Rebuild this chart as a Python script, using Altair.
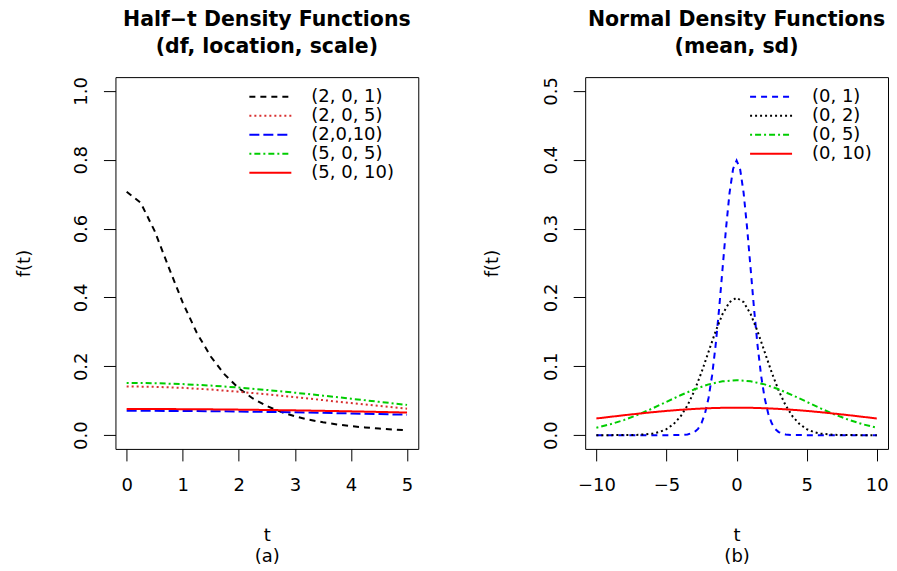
import altair as alt
import pandas as pd

FONT = "DejaVu Sans"
NB = "\u00a0"

# ---------------- Left panel: half-t densities ----------------
ht_t_fine = [0, 0.25, 0.5, 0.75, 1.0, 1.25, 1.5, 1.75, 2.0, 2.25, 2.5,
             2.75, 3.0, 3.25, 3.5, 3.75, 4.0, 4.25, 4.5, 4.75, 5.0]
ht_2_0_1 = [0.7071, 0.6752, 0.5926, 0.4876, 0.3849, 0.2974, 0.2283, 0.1756,
            0.1361, 0.1066, 0.0844, 0.0676, 0.0548, 0.0449, 0.0372, 0.0311,
            0.0262, 0.0223, 0.0191, 0.0164, 0.0143]
ht_t = [0, 0.5, 1.0, 1.5, 2.0, 2.5, 3.0, 3.5, 4.0, 4.5, 5.0]
ht_2_0_5 = [0.1414, 0.1404, 0.1373, 0.1324, 0.1260, 0.1185, 0.1103, 0.1018,
            0.0933, 0.0849, 0.0770]
ht_2_0_10 = [0.0707, 0.0706, 0.0702, 0.0695, 0.0686, 0.0675, 0.0662, 0.0647,
             0.0630, 0.0612, 0.0593]
ht_5_0_5 = [0.1518, 0.1509, 0.1482, 0.1439, 0.1381, 0.1312, 0.1233, 0.1147,
            0.1058, 0.0968, 0.0879]
ht_5_0_10 = [0.0759, 0.0758, 0.0755, 0.0749, 0.0741, 0.0731, 0.0720, 0.0706,
             0.0691, 0.0674, 0.0656]

left_labels = ["(2, 0, 1)", "(2, 0, 5)", "(2,0,10)", "(5, 0, 5)", "(5, 0, 10)"]
left_colors = ["#000000", "#D83030", "#0000FF", "#00CD00", "#FF0000"]
left_dashes = [[6, 5], [2, 3], [10, 4], [2, 3, 6, 3], [1, 0]]

# ---------------- Right panel: normal densities ----------------
n1_t = [-10, -8, -6, -5, -4, -3.5, -3, -2.75, -2.5, -2.25, -2, -1.75, -1.5,
        -1.25, -1, -0.75, -0.5, -0.25, 0, 0.25, 0.5, 0.75, 1, 1.25, 1.5,
        1.75, 2, 2.25, 2.5, 2.75, 3, 3.5, 4, 5, 6, 8, 10]
n1_f = [0.0, 0.0, 0.0, 0.0, 0.0001, 0.0009, 0.0044, 0.0091, 0.0175, 0.0317,
        0.0540, 0.0863, 0.1295, 0.1826, 0.2420, 0.3011, 0.3521, 0.3867,
        0.3989, 0.3867, 0.3521, 0.3011, 0.2420, 0.1826, 0.1295, 0.0863,
        0.0540, 0.0317, 0.0175, 0.0091, 0.0044, 0.0009, 0.0001, 0.0, 0.0,
        0.0, 0.0]
n2_t = [-10, -9, -8, -7, -6, -5.5, -5, -4.5, -4, -3.5, -3, -2.5, -2, -1.5,
        -1, -0.5, 0, 0.5, 1, 1.5, 2, 2.5, 3, 3.5, 4, 4.5, 5, 5.5, 6, 7, 8,
        9, 10]
n2_f = [0.0, 0.0, 0.0001, 0.0004, 0.0022, 0.0045, 0.0088, 0.0159, 0.0270,
        0.0431, 0.0648, 0.0913, 0.1210, 0.1506, 0.1760, 0.1933, 0.1995,
        0.1933, 0.1760, 0.1506, 0.1210, 0.0913, 0.0648, 0.0431, 0.0270,
        0.0159, 0.0088, 0.0045, 0.0022, 0.0004, 0.0001, 0.0, 0.0]
n_t = [-10, -9, -8, -7, -6, -5, -4, -3, -2, -1, 0, 1, 2, 3, 4, 5, 6, 7, 8,
       9, 10]
n5_f = [0.0108, 0.0158, 0.0222, 0.0299, 0.0388, 0.0484, 0.0579, 0.0666,
        0.0737, 0.0782, 0.0798, 0.0782, 0.0737, 0.0666, 0.0579, 0.0484,
        0.0388, 0.0299, 0.0222, 0.0158, 0.0108]
n10_f = [0.0242, 0.0266, 0.0290, 0.0312, 0.0333, 0.0352, 0.0368, 0.0381,
         0.0391, 0.0397, 0.0399, 0.0397, 0.0391, 0.0381, 0.0368, 0.0352,
         0.0333, 0.0312, 0.0290, 0.0266, 0.0242]

right_labels = ["(0, 1)", "(0, 2)", "(0, 5)", "(0, 10)"]
right_colors = ["#0000FF", "#000000", "#00CD00", "#FF0000"]
right_dashes = [[6, 5], [2, 3], [2, 3, 6, 3], [1, 0]]


def long(ts, fs, label, field):
    return pd.DataFrame({"t": ts, "f": fs, field: label})


left_df = pd.concat([
    long(ht_t_fine, ht_2_0_1, left_labels[0], "lser"),
    long(ht_t, ht_2_0_5, left_labels[1], "lser"),
    long(ht_t, ht_2_0_10, left_labels[2], "lser"),
    long(ht_t, ht_5_0_5, left_labels[3], "lser"),
    long(ht_t, ht_5_0_10, left_labels[4], "lser"),
], ignore_index=True)

right_df = pd.concat([
    long(n1_t, n1_f, right_labels[0], "rser"),
    long(n2_t, n2_f, right_labels[1], "rser"),
    long(n_t, n5_f, right_labels[2], "rser"),
    long(n_t, n10_f, right_labels[3], "rser"),
], ignore_index=True)


def axis_x(values, sub):
    return alt.Axis(values=values, domain=False, grid=False, tickSize=12,
                    tickColor="black", tickWidth=1, labelFontSize=18,
                    labelFont=FONT, labelColor="black", labelPadding=16,
                    labelFlush=False, labelOverlap=False,
                    title=["t", sub], titleFont=FONT, titleFontSize=18,
                    titleFontWeight="normal", titleColor="black",
                    titleLineHeight=21, titlePadding=32)


def axis_y(values, title_x):
    return alt.Axis(values=values, format=".1f", domain=False, grid=False,
                    tickSize=12, tickColor="black", tickWidth=1,
                    labelFontSize=18, labelFont=FONT, labelColor="black",
                    labelAngle=-90, labelAlign="center",
                    labelBaseline="bottom", labelPadding=13,
                    labelFlush=False, labelOverlap=False,
                    title="f(t)", titleFont=FONT, titleFontSize=18,
                    titleFontWeight="normal", titleColor="black",
                    titleX=title_x, titleY=186, titleAngle=-90,
                    titleAlign="center", titleBaseline="middle")


def legend(x, y):
    return alt.Legend(orient="none", legendX=x, legendY=y, title=None,
                      symbolType="stroke", symbolSize=1764,
                      symbolStrokeWidth=2, labelFontSize=18, labelFont=FONT,
                      labelColor="black", rowPadding=0, clipHeight=18.2,
                      labelOffset=19, padding=0)


W, H = 303, 372

left = alt.Chart(left_df).mark_line(strokeWidth=2).encode(
    x=alt.X("t:Q", scale=alt.Scale(domain=[-0.2, 5.2], nice=False, zero=False),
            axis=axis_x([0, 1, 2, 3, 4, 5], "(a)")),
    y=alt.Y("f:Q", scale=alt.Scale(domain=[-0.04, 1.04], nice=False, zero=False),
            axis=axis_y([0, 0.2, 0.4, 0.6, 0.8, 1.0], -91)),
    color=alt.Color("lser:N", scale=alt.Scale(domain=left_labels, range=left_colors),
                    legend=legend(133, 10.5)),
    strokeDash=alt.StrokeDash("lser:N", scale=alt.Scale(domain=left_labels, range=left_dashes),
                              legend=legend(133, 10.5)),
).properties(
    width=W, height=H,
    title=alt.TitleParams(["Half\u2212t Density Functions", NB + "(df, location, scale)"],
                          font=FONT, fontSize=20.5, fontWeight="bold", color="black",
                          lineHeight=27, anchor="middle", offset=19),
)

right = alt.Chart(right_df).mark_line(strokeWidth=2).encode(
    x=alt.X("t:Q", scale=alt.Scale(domain=[-10.8, 10.8], nice=False, zero=False),
            axis=axis_x([-10, -5, 0, 5, 10], "(b)")),
    y=alt.Y("f:Q", scale=alt.Scale(domain=[-0.02, 0.52], nice=False, zero=False),
            axis=axis_y([0, 0.1, 0.2, 0.3, 0.4, 0.5], -93)),
    color=alt.Color("rser:N", scale=alt.Scale(domain=right_labels, range=right_colors),
                    legend=legend(164, 10.5)),
    strokeDash=alt.StrokeDash("rser:N", scale=alt.Scale(domain=right_labels, range=right_dashes),
                              legend=legend(164, 10.5)),
).properties(
    width=W, height=H,
    title=alt.TitleParams(["Normal Density Functions", NB * 6 + "(mean, sd)"],
                          font=FONT, fontSize=20.5, fontWeight="bold", color="black",
                          lineHeight=27, anchor="middle", offset=19),
)

chart = alt.hconcat(left, right, spacing=167, bounds="flush").resolve_scale(
    color="independent", strokeDash="independent"
).configure(
    background="white", padding={"left": 6.5, "top": 1, "right": 0, "bottom": 0}
).configure_view(stroke="black", strokeWidth=1)

chart.save("out.html", embed_options={"renderer": "svg", "actions": False})
